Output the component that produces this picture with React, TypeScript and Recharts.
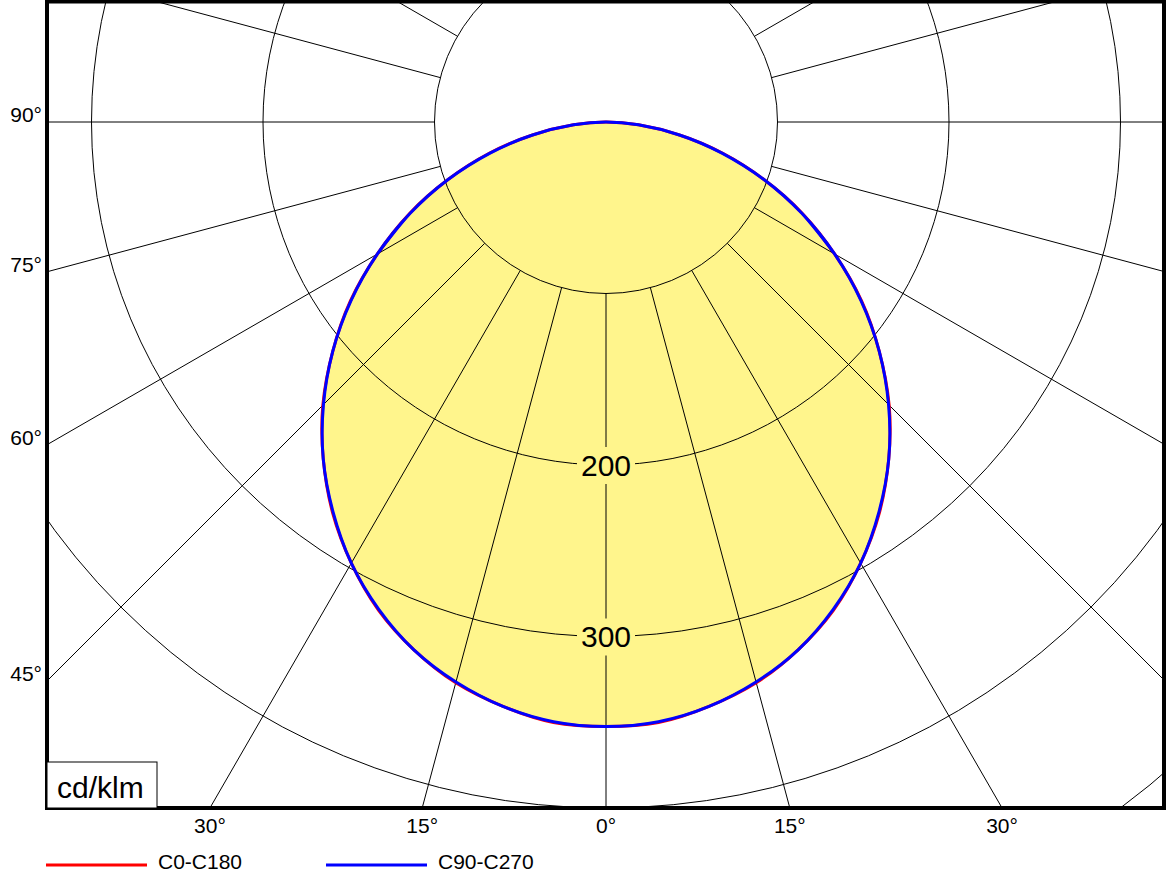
import React from 'react';
import { RadarChart, Radar, PolarGrid, PolarAngleAxis, PolarRadiusAxis, Legend, Curve } from 'recharts';

// ---------- layout ----------
const CHART_W = 1166;
const CHART_H = 875;
const CENTER_X = 606;
const CENTER_Y = 122;
const PLOT = { left: 47, top: 0, right: 1165, bottom: 808 };
const FONT = '"Liberation Sans", Arial, Helvetica, sans-serif';
const FILL = '#FFF58C';

// ---------- scales ----------
const RADIUS_GRID_MIN = 100; // radial grid lines start at this value
const RADIUS_MAX = 600;
const OUTER_RADIUS = 1029;
const INNER_RADIUS = (OUTER_RADIUS * RADIUS_GRID_MIN) / RADIUS_MAX;

// ---------- data (cd/klm, gamma angle from nadir) ----------
const halfAngles = [0, 5, 10, 15, 20, 25, 30, 35, 40, 45, 50, 55, 60, 65, 70, 75, 80, 85, 90];
const c0c180Half = [352.5, 351.5, 346, 338.5, 327.5, 314, 297, 278, 256.5, 233.5, 208, 182, 154, 126.5, 98, 70.5, 43.5, 19, 0];
const c90c270Half = [352.5, 351, 346, 338, 327.5, 313.5, 297, 277.5, 256.5, 233, 208, 181.5, 154, 126, 98, 70, 43.5, 19, 0];
const gammaCategories = [
  0, 5, 10, 15, 20, 25, 30, 35, 40, 45, 50, 55, 60, 65, 70, 75, 80, 85,
  90, 95, 100, 105, 110, 115, 120, 125, 130, 135, 140, 145, 150, 155, 160, 165, 170, 175,
  180, 185, 190, 195, 200, 205, 210, 215, 220, 225, 230, 235, 240, 245, 250, 255, 260, 265,
  270, 275, 280, 285, 290, 295, 300, 305, 310, 315, 320, 325, 330, 335, 340, 345, 350, 355,
];
const gridAngles = [0, 15, 30, 45, 60, 75, 90, 105, 120, 135, 150, 165, 180, 195, 210, 225, 240, 255, 270, 285, 300, 315, 330, 345];
const radiusTickLabels = [200, 300];
const seriesInfo = [
  { key: 'c0', name: 'C0-C180', color: '#FF0000' },
  { key: 'c90', name: 'C90-C270', color: '#0000FF' },
];
const unitLabel = 'cd/klm';

const valueAt = (half: number[], g: number) => {
  const m = g <= 180 ? g : 360 - g;
  const idx = halfAngles.indexOf(m);
  return idx >= 0 ? half[idx] : 0;
};

const data = gammaCategories.map((g) => ({
  gamma: g,
  c0: valueAt(c0c180Half, g),
  c90: valueAt(c90c270Half, g),
}));

// ---------- smooth closed outline through the library-computed radar points ----------
const smoothShape = (fillColor: string, strokeColor: string, strokeWidth: number) => (props: any) => {
  const pts: any[] = props.points ?? [];
  const sideB = pts
    .filter((p) => Number(p.payload?.gamma) >= 270)
    .sort((a, b) => a.payload.gamma - b.payload.gamma);
  const sideA = pts
    .filter((p) => Number(p.payload?.gamma) <= 90)
    .sort((a, b) => a.payload.gamma - b.payload.gamma);
  const loop = [...sideB, ...sideA]; // starts and ends at the centre
  const wrap = 6;
  const extended = [...loop.slice(loop.length - 1 - wrap, loop.length - 1), ...loop, ...loop.slice(1, 1 + wrap)];
  return (
    <Curve
      points={extended}
      type="natural"
      fill={fillColor}
      fillOpacity={fillColor === 'none' ? 0 : 1}
      stroke={strokeColor}
      strokeWidth={strokeWidth}
      strokeLinejoin="round"
      strokeLinecap="round"
    />
  );
};

// ---------- custom ticks ----------
const AngleTick = (props: any) => {
  const { x, y, payload } = props;
  const g = Number(payload?.value);
  if (!gridAngles.includes(g)) return <g />;
  const dx = x - CENTER_X;
  const dy = y - CENTER_Y;
  const label = `${g <= 180 ? g : 360 - g}°`;
  const textProps = { fontFamily: FONT, fontSize: 21, fill: '#000' };
  if (dy > 1e-6) {
    const t = (PLOT.bottom - CENTER_Y) / dy;
    const xb = CENTER_X + dx * t;
    if (xb >= PLOT.left && xb <= PLOT.right) {
      return (
        <text x={xb} y={PLOT.bottom + 25} textAnchor="middle" {...textProps}>
          {label}
        </text>
      );
    }
  }
  if (dx < -1e-6) {
    const t = (PLOT.left - CENTER_X) / dx;
    const yl = CENTER_Y + dy * t;
    if (yl >= PLOT.top && yl <= PLOT.bottom) {
      return (
        <text x={PLOT.left - 5} y={yl} textAnchor="end" {...textProps}>
          {label}
        </text>
      );
    }
  }
  return <g />;
};

const RadiusTick = (props: any) => {
  const { x, y, payload } = props;
  const v = Number(payload?.value);
  if (!radiusTickLabels.includes(v)) return <g />;
  return (
    <g>
      <rect x={x - 29} y={y - 18} width={58} height={37} fill={FILL} />
      <text x={x} y={y} dy="0.35em" textAnchor="middle" fontFamily={FONT} fontSize={30} fill="#000">
        {v}
      </text>
    </g>
  );
};

const LegendContent = (props: any) => {
  const items = (props.payload ?? []).filter((p: any) => p.type !== 'none');
  return (
    <svg width={CHART_W} height={30} style={{ display: 'block' }}>
      {items.map((p: any, i: number) => {
        const info = seriesInfo.find((s) => s.name === p.value);
        const color = info?.color ?? p.color;
        const x0 = 46 + i * 280;
        return (
          <g key={p.value}>
            <line x1={x0} x2={x0 + 101} y1={17} y2={17} stroke={color} strokeWidth={3} />
            <text x={x0 + 112} y={21} fontFamily={FONT} fontSize={21} fill="#000">
              {p.value}
            </text>
          </g>
        );
      })}
    </svg>
  );
};

export default function App() {
  return (
    <div style={{ position: 'absolute', left: 0, top: 0, width: CHART_W, height: CHART_H, background: '#fff' }}>
      <RadarChart
        width={CHART_W}
        height={CHART_H}
        data={data}
        cx={CENTER_X}
        cy={CENTER_Y}
        innerRadius={INNER_RADIUS}
        outerRadius={OUTER_RADIUS}
        startAngle={-90}
        endAngle={-450}
        margin={{ top: 0, right: 0, bottom: 0, left: 0 }}
      >
        <Radar
          dataKey="c0"
          legendType="none"
          isAnimationActive={false}
          activeDot={false}
          dot={false}
          zIndex={-200}
          shape={smoothShape(FILL, 'none', 0)}
        />
        <PolarGrid
          gridType="circle"
          stroke="#000"
          strokeWidth={1}
          strokeOpacity={1}
          zIndex={-100}
          polarAngles={gridAngles.map((g) => -90 - g)}
        />
        {/* masks: keep the grid inside the plot frame */}
        <rect x={0} y={0} width={PLOT.left - 2} height={CHART_H} fill="#fff" />
        <rect x={0} y={PLOT.bottom + 2} width={CHART_W} height={CHART_H - PLOT.bottom - 2} fill="#fff" />
        <rect
          x={PLOT.left}
          y={PLOT.top + 1.5}
          width={PLOT.right - PLOT.left - 1}
          height={PLOT.bottom - PLOT.top - 1.5}
          fill="none"
          stroke="#000"
          strokeWidth={4}
        />
        <rect x={PLOT.left} y={762} width={110} height={PLOT.bottom - 762} fill="#fff" stroke="#000" strokeWidth={1} />
        <text x={PLOT.left + 10} y={798} fontFamily={FONT} fontSize={30} fill="#000">
          {unitLabel}
        </text>
        <PolarRadiusAxis
          angle={-90}
          type="number"
          domain={[RADIUS_GRID_MIN, RADIUS_MAX]}
          allowDataOverflow
          tickCount={6}
          axisLine={false}
          tickLine={false}
          tick={<RadiusTick />}
        />
        {seriesInfo.map((s) => (
          <Radar
            key={s.key}
            name={s.name}
            dataKey={s.key}
            stroke={s.color}
            strokeWidth={3}
            fill="none"
            fillOpacity={0}
            isAnimationActive={false}
            activeDot={false}
            dot={false}
            shape={smoothShape('none', s.color, 3)}
          />
        ))}
        <PolarAngleAxis dataKey="gamma" axisLine={false} tickLine={false} tick={<AngleTick />} />
        <Legend content={<LegendContent />} wrapperStyle={{ position: 'absolute', left: 0, top: 848, width: CHART_W, height: 30, margin: 0, padding: 0 }} />
      </RadarChart>
    </div>
  );
}
